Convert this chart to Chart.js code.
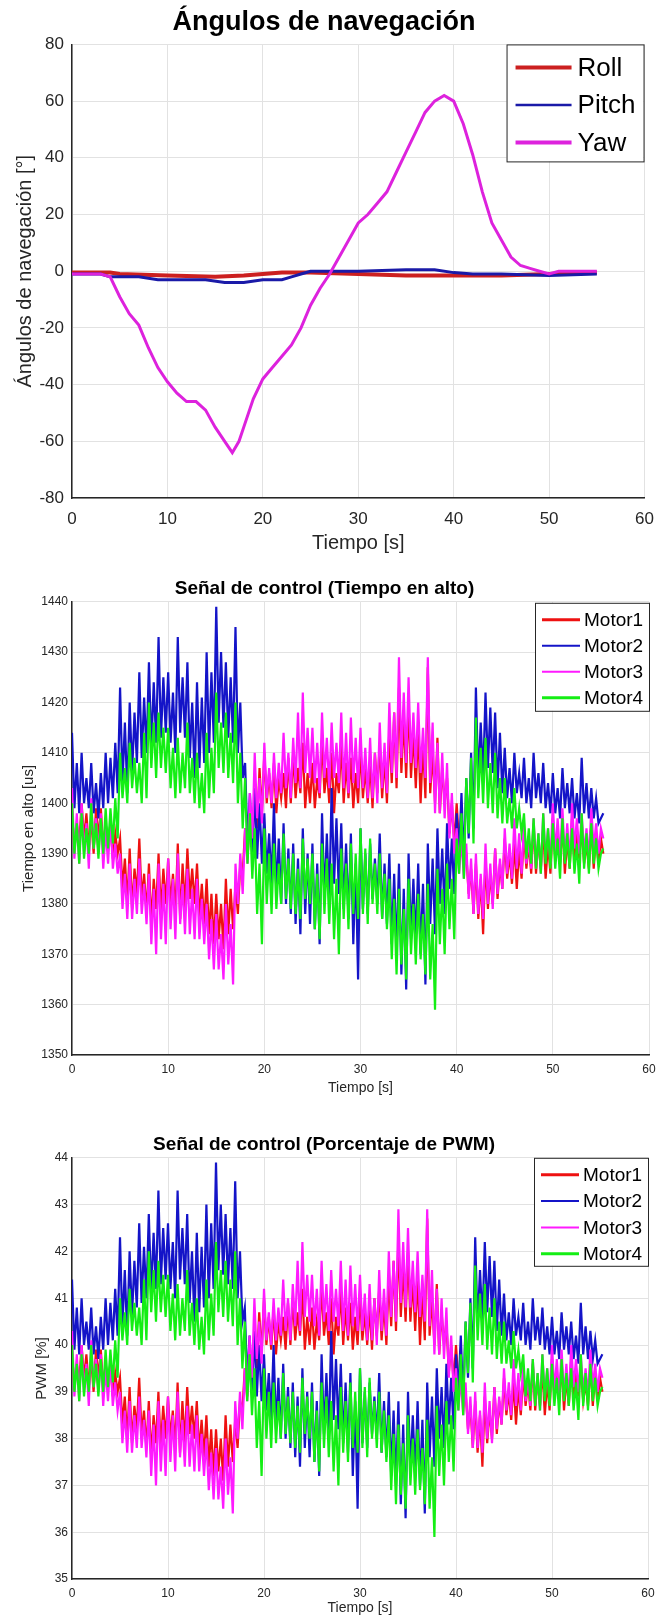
<!DOCTYPE html>
<html lang="es">
<head>
<meta charset="utf-8">
<title>Ángulos de navegación y señal de control</title>
<script src="https://cdn.jsdelivr.net/npm/chart.js@4.4.1/dist/chart.umd.min.js"></script>
<style>
  html, body { margin: 0; padding: 0; background: #fff; }
  body { width: 665px; height: 1623px; overflow: hidden; }
  canvas { display: block; }
</style>
</head>
<body>
<canvas id="angulosChart" width="665" height="560"></canvas>
<canvas id="tiempoAltoChart" width="665" height="540"></canvas>
<canvas id="pwmChart" width="665" height="523"></canvas>

<script>
// 1. Datos
// Ángulos de navegación [°]
const yawT   = [0, 1, 2, 3, 4, 5, 6, 7, 8, 9, 10, 11, 12, 13, 14, 15, 16, 16.8, 17.5, 18, 19, 20, 21, 22, 23, 24, 25, 26, 27, 28, 29, 30, 31, 32, 33, 34, 35, 36, 37, 38, 39, 40, 41, 42, 43, 44, 45, 46, 47, 48, 49, 50, 51, 52, 53, 54, 55];
const yawDeg = [-1, -1, -1, -1, -2, -9, -15, -19, -27, -34, -39, -43, -46, -46, -49, -55, -60, -64, -60, -55, -45, -38, -34, -30, -26, -20, -12, -6, -1, 5, 11, 17, 20, 24, 28, 35, 42, 49, 56, 60, 62, 60, 52, 41, 28, 17, 11, 5, 2, 1, 0, -1, 0, 0, 0, 0, 0];

const rollT   = [0, 4, 5, 10, 15, 18, 20, 22, 25, 30, 35, 40, 45, 50, 55];
const rollDeg = [-0.5, -0.5, -1, -1.5, -2, -1.5, -1, -0.5, -0.5, -1, -1.5, -1.5, -1.5, -1, -0.5];

const pitchT   = [0, 3, 4, 7, 9, 11, 14, 16, 17, 18, 20, 22, 23, 24, 25, 30, 35, 38, 40, 42, 45, 50, 55];
const pitchDeg = [-1, -1, -2, -2, -3, -3, -3, -4, -4, -4, -3, -3, -2, -1, 0, 0, 0.5, 0.5, -0.5, -1, -1, -1.5, -1];

// Tiempo en alto de cada motor [us], una muestra cada PASO segundos (20 por línea = 5 s)
const PASO = 0.25;
const motor1Us = [
  1398, 1391, 1396, 1392, 1400, 1393, 1398, 1391, 1397, 1390, 1399, 1393, 1399, 1391, 1396, 1392, 1396, 1389, 1394, 1390,
  1393, 1383, 1389, 1380, 1391, 1379, 1387, 1382, 1393, 1381, 1386, 1378, 1388, 1376, 1385, 1379, 1390, 1378, 1387, 1380,
  1389, 1380, 1386, 1378, 1392, 1377, 1388, 1379, 1391, 1381, 1387, 1380, 1388, 1377, 1384, 1376, 1385, 1374, 1382, 1372,
  1382, 1373, 1380, 1371, 1385, 1374, 1383, 1375, 1384, 1378, 1388, 1386, 1395, 1389, 1398, 1392, 1402, 1395, 1407, 1398,
  1410, 1400, 1406, 1399, 1408, 1398, 1405, 1401, 1406, 1399, 1409, 1400, 1410, 1401, 1407, 1402, 1412, 1399, 1406, 1400,
  1408, 1399, 1405, 1401, 1413, 1402, 1407, 1400, 1410, 1398, 1406, 1402, 1412, 1400, 1408, 1401, 1409, 1399, 1406, 1400,
  1411, 1401, 1407, 1400, 1408, 1399, 1410, 1402, 1412, 1401, 1409, 1400, 1415, 1404, 1418, 1403, 1423, 1406, 1417, 1405,
  1420, 1405, 1414, 1403, 1415, 1400, 1412, 1401, 1427, 1402, 1410, 1400, 1413, 1398, 1407, 1400, 1405, 1394, 1400, 1392,
  1400, 1392, 1396, 1390, 1390, 1382, 1387, 1378, 1388, 1377, 1385, 1374, 1389, 1379, 1386, 1380, 1391, 1381, 1388, 1383,
  1393, 1385, 1390, 1384, 1392, 1383, 1391, 1385, 1394, 1387, 1392, 1386, 1396, 1386, 1393, 1387, 1395, 1385, 1392, 1386,
  1397, 1389, 1394, 1388, 1396, 1386, 1393, 1387, 1397, 1388, 1395, 1389, 1395, 1388, 1392, 1387, 1396, 1387, 1394, 1388,
  1393, 1390
];
const motor2Us = [
  1414, 1399, 1408, 1398, 1410, 1400, 1405, 1399, 1408, 1398, 1404, 1397, 1406, 1399, 1410, 1400, 1409, 1401, 1412, 1402,
  1423, 1404, 1416, 1402, 1420, 1406, 1418, 1408, 1426, 1409, 1421, 1410, 1428, 1411, 1424, 1412, 1433, 1413, 1425, 1414,
  1426, 1412, 1422, 1410, 1433, 1414, 1425, 1413, 1428, 1409, 1420, 1405, 1424, 1407, 1421, 1408, 1430, 1410, 1426, 1412,
  1439, 1416, 1430, 1415, 1428, 1413, 1425, 1412, 1435, 1410, 1420, 1405, 1408, 1392, 1402, 1390, 1403, 1389, 1400, 1388,
  1398, 1386, 1394, 1384, 1400, 1382, 1393, 1380, 1396, 1380, 1391, 1378, 1392, 1376, 1389, 1374, 1395, 1378, 1390, 1376,
  1392, 1375, 1388, 1372, 1398, 1381, 1394, 1380, 1403, 1384, 1397, 1382, 1396, 1379, 1392, 1377, 1394, 1372, 1388, 1365,
  1395, 1379, 1390, 1378, 1392, 1381, 1389, 1380, 1394, 1377, 1388, 1376, 1390, 1372, 1386, 1370, 1388, 1366, 1383, 1363,
  1390, 1373, 1385, 1372, 1388, 1370, 1384, 1364, 1392, 1376, 1389, 1374, 1395, 1380, 1391, 1378, 1396, 1383, 1393, 1382,
  1398, 1390, 1402, 1388, 1405, 1393, 1410, 1395, 1423, 1404, 1416, 1405, 1422, 1407, 1419, 1406, 1418, 1403, 1414, 1402,
  1411, 1401, 1407, 1400, 1410, 1402, 1406, 1401, 1409, 1400, 1405, 1399, 1410, 1401, 1406, 1400, 1408, 1399, 1404, 1398,
  1406, 1398, 1403, 1397, 1407, 1399, 1404, 1398, 1405, 1397, 1402, 1396, 1409, 1398, 1404, 1397, 1403, 1397, 1401, 1396,
  1397, 1398
];
const motor3Us = [
  1403, 1389, 1398, 1388, 1400, 1390, 1396, 1387, 1401, 1391, 1397, 1390, 1398, 1387, 1395, 1388, 1397, 1387, 1392, 1386,
  1390, 1379, 1386, 1377, 1388, 1377, 1385, 1378, 1389, 1378, 1384, 1376, 1386, 1372, 1383, 1370, 1388, 1373, 1384, 1372,
  1389, 1375, 1385, 1373, 1390, 1376, 1384, 1374, 1387, 1374, 1383, 1373, 1385, 1373, 1381, 1372, 1380, 1369, 1377, 1367,
  1378, 1367, 1374, 1365, 1380, 1368, 1376, 1364, 1388, 1380, 1390, 1382, 1395, 1388, 1402, 1393, 1410, 1397, 1405, 1396,
  1412, 1401, 1407, 1400, 1410, 1401, 1408, 1402, 1414, 1403, 1410, 1401, 1413, 1404, 1418, 1403, 1422, 1406, 1415, 1405,
  1415, 1404, 1412, 1402, 1418, 1405, 1413, 1403, 1416, 1405, 1412, 1404, 1418, 1403, 1414, 1402, 1417, 1404, 1413, 1403,
  1415, 1403, 1411, 1401, 1413, 1401, 1410, 1400, 1416, 1403, 1412, 1402, 1420, 1406, 1418, 1405, 1429, 1409, 1422, 1408,
  1425, 1408, 1418, 1407, 1420, 1406, 1415, 1405, 1429, 1404, 1416, 1398, 1412, 1398, 1410, 1397, 1408, 1393, 1402, 1390,
  1395, 1386, 1393, 1385, 1392, 1381, 1389, 1378, 1390, 1378, 1386, 1377, 1392, 1380, 1388, 1379, 1391, 1382, 1389, 1383,
  1395, 1386, 1392, 1385, 1397, 1387, 1394, 1386, 1396, 1388, 1393, 1387, 1397, 1387, 1394, 1386, 1398, 1389, 1395, 1388,
  1400, 1390, 1397, 1389, 1399, 1389, 1396, 1388, 1400, 1391, 1397, 1390, 1398, 1390, 1395, 1389, 1399, 1391, 1396, 1390,
  1395, 1393
];
const motor4Us = [
  1400, 1390, 1396, 1388, 1398, 1389, 1395, 1390, 1400, 1391, 1396, 1389, 1397, 1390, 1399, 1391, 1399, 1392, 1401, 1393,
  1410, 1401, 1407, 1400, 1412, 1403, 1409, 1402, 1408, 1400, 1414, 1401, 1420, 1407, 1416, 1405, 1418, 1407, 1415, 1406,
  1415, 1403, 1411, 1401, 1413, 1402, 1410, 1403, 1416, 1402, 1409, 1400, 1410, 1399, 1406, 1398, 1414, 1401, 1411, 1402,
  1422, 1407, 1416, 1406, 1418, 1405, 1414, 1404, 1420, 1400, 1410, 1395, 1405, 1388, 1398, 1385, 1395, 1378, 1388, 1372,
  1395, 1380, 1390, 1378, 1392, 1379, 1388, 1380, 1394, 1381, 1389, 1379, 1390, 1378, 1387, 1377, 1393, 1381, 1389, 1380,
  1390, 1375, 1386, 1373, 1392, 1378, 1389, 1376, 1388, 1373, 1385, 1370, 1391, 1377, 1388, 1375, 1392, 1378, 1390, 1377,
  1395, 1378, 1391, 1376, 1393, 1380, 1388, 1378, 1390, 1377, 1386, 1375, 1385, 1369, 1381, 1366, 1383, 1368, 1379, 1365,
  1385, 1370, 1380, 1368, 1382, 1369, 1378, 1366, 1384, 1365, 1376, 1359, 1387, 1372, 1383, 1370, 1388, 1375, 1385, 1373,
  1393, 1386, 1398, 1385, 1405, 1394, 1409, 1392, 1417, 1401, 1411, 1400, 1413, 1399, 1408, 1398, 1410, 1397, 1405, 1396,
  1405, 1396, 1401, 1395, 1403, 1395, 1399, 1394, 1398, 1389, 1395, 1388, 1397, 1387, 1394, 1386, 1398, 1388, 1395, 1387,
  1396, 1387, 1393, 1385, 1397, 1388, 1394, 1387, 1395, 1386, 1392, 1384, 1398, 1387, 1394, 1386, 1396, 1388, 1393, 1387,
  1390, 1391
];

const motorLabels = ['Motor1', 'Motor2', 'Motor3', 'Motor4'];
const motorColors = ['#ee1111', '#1414c8', '#ff1aff', '#14ee14'];

// El porcentaje de PWM es el mismo registro en otra unidad
const pwmFromUs = us => (us - 1000) / 10;

// 2. Estilo común (tipo MATLAB)
const FONT = '"Liberation Sans", Arial, Helvetica, sans-serif';
Chart.defaults.font.family = FONT;
Chart.defaults.color = '#262626';

const toXY = (ts, vs) => vs.map((v, i) => ({ x: ts[i], y: v }));
const motorXY = vs => vs.map((v, i) => ({ x: i * PASO, y: v }));

// Leyenda con recuadro, como la de MATLAB
const boxLegend = {
  id: 'boxLegend',
  afterDatasetsDraw(chart, args, o) {
    const c = chart.ctx;
    const a = chart.chartArea;
    const left = a.right - o.right - o.width;
    const top = a.top + o.top;
    c.save();
    c.fillStyle = '#fff';
    c.fillRect(left, top, o.width, o.height);
    c.strokeStyle = '#262626';
    c.lineWidth = 1;
    c.strokeRect(left + 0.5, top + 0.5, o.width, o.height);
    c.font = o.size + 'px ' + FONT;
    c.textBaseline = 'middle';
    c.textAlign = 'left';
    chart.data.datasets.forEach((ds, i) => {
      const y = top + o.firstRow + i * o.rowGap;
      c.strokeStyle = ds.borderColor;
      c.lineWidth = o.lineWidths[i];
      c.beginPath();
      c.moveTo(left + o.lineFrom, y);
      c.lineTo(left + o.lineTo, y);
      c.stroke();
      c.fillStyle = '#000';
      c.fillText(ds.label, left + o.textX, y + 1);
    });
    c.restore();
  }
};

const plainNumber = v => String(v);   // sin separador de miles

function axisX(cfg) {
  return {
    type: 'linear', min: 0, max: 60,
    afterFit: s => { s.height = cfg.height; },
    ticks: { stepSize: 10, padding: cfg.pad, font: { size: cfg.tickSize }, maxRotation: 0, autoSkip: false, callback: plainNumber },
    grid: { color: '#e2e2e2', drawTicks: false },
    border: { color: '#262626', width: 1.5 },
    title: { display: true, text: 'Tiempo [s]', color: '#262626', font: { size: cfg.titleSize }, padding: { top: 0, bottom: cfg.titlePad } }
  };
}

function axisY(cfg) {
  return {
    type: 'linear', min: cfg.min, max: cfg.max,
    afterFit: s => { s.width = 72; },
    ticks: { stepSize: cfg.step, padding: cfg.pad, font: { size: cfg.tickSize }, autoSkip: false, callback: plainNumber },
    grid: { color: '#e2e2e2', drawTicks: false },
    border: { color: '#262626', width: 1.5 },
    title: { display: true, text: cfg.text, color: '#262626', font: { size: cfg.titleSize }, padding: { top: cfg.titlePad, bottom: 0 } }
  };
}

function baseOptions(cfg) {
  return {
    responsive: false,
    animation: false,
    layout: { padding: { top: 0, left: 0, bottom: 0, right: cfg.padRight } },
    elements: { point: { radius: 0 }, line: { tension: 0 } },
    plugins: {
      legend: { display: false },
      tooltip: { enabled: false },
      title: {
        display: true, text: cfg.title, color: '#000',
        font: { size: cfg.titleSize, weight: 'bold' },
        padding: { top: cfg.titleTop, bottom: cfg.titleBottom }
      },
      boxLegend: cfg.legend
    },
    scales: { x: axisX(cfg.x), y: axisY(cfg.y) }
  };
}

// 3. Gráfico 1: ángulos de navegación
new Chart(document.getElementById('angulosChart'), {
  type: 'line',
  data: {
    datasets: [
      { label: 'Roll',  data: toXY(rollT, rollDeg),   borderColor: '#cc2020', borderWidth: 4, order: 3 },
      { label: 'Pitch', data: toXY(pitchT, pitchDeg), borderColor: '#1a1aa8', borderWidth: 3, order: 2 },
      { label: 'Yaw',   data: toXY(yawT, yawDeg),     borderColor: '#dd22dd', borderWidth: 3, order: 1 }
    ]
  },
  options: baseOptions({
    title: 'Ángulos de navegación', titleSize: 27, titleTop: 6, titleBottom: 6,
    padRight: 17,
    legend: { right: 1, width: 137, top: 0, height: 117, firstRow: 23, rowGap: 37.5,
              lineFrom: 9, lineTo: 65, textX: 71, size: 26, lineWidths: [4, 2.5, 4] },
    x: { height: 62, pad: 11, tickSize: 17, titleSize: 20, titlePad: 5 },
    y: { min: -80, max: 80, step: 20, pad: 8, tickSize: 17, text: 'Ángulos de navegación [°]', titleSize: 20, titlePad: 13 }
  }),
  plugins: [boxLegend]
});

// 4. Gráficos 2 y 3: señal de control
function motorDatasets(convert) {
  const series = [motor1Us, motor2Us, motor3Us, motor4Us];
  return series.map((vs, i) => ({
    label: motorLabels[i],
    data: motorXY(convert ? vs.map(convert) : vs),
    borderColor: motorColors[i],
    borderWidth: 2.2,
    order: 4 - i
  }));
}

const motorLegend = { right: 0, width: 114, top: 1, height: 108, firstRow: 17, rowGap: 26,
                      lineFrom: 7, lineTo: 45, textX: 49, size: 19, lineWidths: [3, 2, 2, 3] };

new Chart(document.getElementById('tiempoAltoChart'), {
  type: 'line',
  data: { datasets: motorDatasets(null) },
  options: baseOptions({
    title: 'Señal de control (Tiempo en alto)', titleSize: 19, titleTop: 17, titleBottom: 2,
    padRight: 16,
    legend: motorLegend,
    x: { height: 45, pad: 7, tickSize: 12, titleSize: 14, titlePad: 3 },
    y: { min: 1350, max: 1440, step: 10, pad: 4, tickSize: 12, text: 'Tiempo en alto [us]', titleSize: 15, titlePad: 20 }
  }),
  plugins: [boxLegend]
});

new Chart(document.getElementById('pwmChart'), {
  type: 'line',
  data: { datasets: motorDatasets(pwmFromUs) },
  options: baseOptions({
    title: 'Señal de control (Porcentaje de PWM)', titleSize: 19, titleTop: 33, titleBottom: 2,
    padRight: 17,
    legend: Object.assign({}, motorLegend, { top: 0, rowGap: 26.3 }),
    x: { height: 44, pad: 7, tickSize: 12, titleSize: 14, titlePad: 6 },
    y: { min: 35, max: 44, step: 1, pad: 4, tickSize: 12, text: 'PWM [%]', titleSize: 15, titlePad: 33 }
  }),
  plugins: [boxLegend]
});
</script>
</body>
</html>
